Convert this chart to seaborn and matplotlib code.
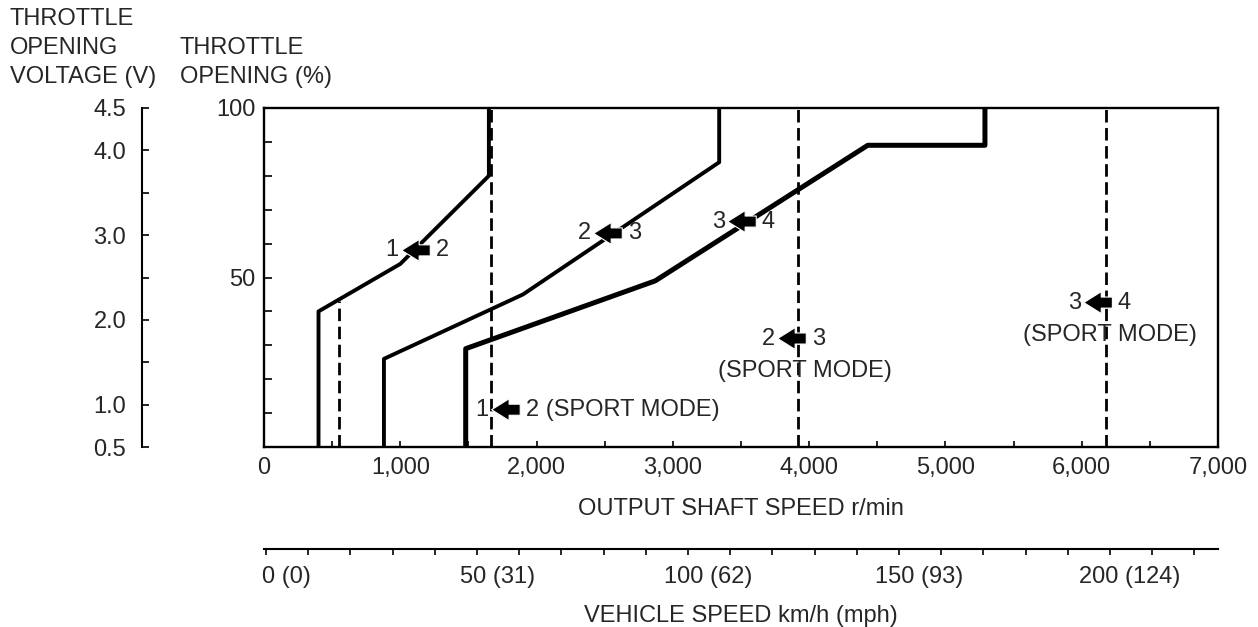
import numpy as np
import pandas as pd
import seaborn as sns
import matplotlib.transforms as mtransforms

from matplotlib import pyplot as plt
from matplotlib.ticker import MultipleLocator, FixedLocator, FuncFormatter

# shift lines: output shaft speed (r/min) vs throttle opening (%)
shift_12_rpm = [400, 400, 1000, 1650, 1650]
shift_12_pct = [0, 40, 54, 80, 100]
shift_23_rpm = [880, 880, 1900, 3340, 3340]
shift_23_pct = [0, 26, 45, 84, 100]
shift_34_rpm = [1480, 1480, 2870, 4430, 5290, 5290]
shift_34_pct = [0, 29, 49, 89, 89, 100]

# dashed shift lines (bottom at 0 %)
dash_rpm = [550, 1665, 3920, 6180]
dash_top = [43, 100, 100, 100]

# axis ticks
volt_major = [0.5, 1.0, 2.0, 3.0, 4.0, 4.5]
volt_minor = [1.5, 2.5, 3.5]
speed_major = [0, 50, 100, 150, 200]
speed_labels = ['0 (0)', '50 (31)', '100 (62)', '150 (93)', '200 (124)']

# shift labels: (from, to, arrow centre r/min, throttle %)
shift_marks = [
    ('1', '2', 1115, 58),
    ('2', '3', 2524, 63),
    ('3', '4', 3507, 66.5),
    ('1', '2 (SPORT MODE)', 1775, 11),
    ('2', '3', 3874, 32),
    ('3', '4', 6120, 42.6),
]
sport_notes = [(3969, 22.4), (6207, 32.9)]

sns.set_theme(style='white')
plt.rcParams['font.family'] = ['Liberation Sans', 'DejaVu Sans']
FS = 17

W, H = 1258, 627
fig = plt.figure(figsize=(W / 100, H / 100), dpi=100)

L, R, T, B = 264, 1218, 108, 447
ax = fig.add_axes([L / W, (H - B) / H, (R - L) / W, (B - T) / H])

df = pd.concat([
    pd.DataFrame({'rpm': shift_12_rpm, 'pct': shift_12_pct, 'shift': '1-2'}),
    pd.DataFrame({'rpm': shift_23_rpm, 'pct': shift_23_pct, 'shift': '2-3'}),
    pd.DataFrame({'rpm': shift_34_rpm, 'pct': shift_34_pct, 'shift': '3-4'}),
])
for name, lw in [('1-2', 2.8), ('2-3', 2.8), ('3-4', 3.6)]:
    sns.lineplot(data=df[df['shift'] == name], x='rpm', y='pct', sort=False,
                 estimator=None, color='black', lw=lw, ax=ax)

ax.vlines(dash_rpm, 0, dash_top, colors='black', linestyles=(0, (4.5, 2)), lw=2.0)

ax.set_xlim(0, 7000)
ax.set_ylim(0, 100)
ax.xaxis.set_major_locator(MultipleLocator(1000))
ax.xaxis.set_minor_locator(MultipleLocator(500))
ax.xaxis.set_major_formatter(FuncFormatter(lambda v, p: f'{int(v):,}'))
ax.yaxis.set_major_locator(FixedLocator([50, 100]))
ax.yaxis.set_minor_locator(MultipleLocator(10))
ax.tick_params(axis='x', which='both', direction='in', length=4.5, width=1.4,
               labelsize=FS, pad=7, bottom=True, top=False)
ax.tick_params(axis='y', which='both', direction='in', length=6, width=1.4,
               labelsize=FS, pad=6, left=True, right=False)
for s in ax.spines.values():
    s.set_linewidth(1.7)
    s.set_color('black')
ax.set_xlabel('OUTPUT SHAFT SPEED r/min', fontsize=FS, labelpad=14)
ax.set_ylabel('')

# shift arrows
half = 105
for a, b, xc, y in shift_marks:
    ax.annotate('', xy=(xc - half, y), xytext=(xc + half, y),
                arrowprops=dict(arrowstyle='simple,head_length=0.6,head_width=0.75,tail_width=0.38',
                                fc='black', ec='white', lw=0.8, shrinkA=0, shrinkB=0,
                                mutation_scale=21))
    ax.annotate(a, xy=(xc - half, y), xytext=(-2, 0), textcoords='offset points',
                ha='right', va='center', fontsize=FS)
    ax.annotate(b, xy=(xc + half, y), xytext=(4, 0), textcoords='offset points',
                ha='left', va='center', fontsize=FS)
for x, y in sport_notes:
    ax.text(x, y, '(SPORT MODE)', ha='center', va='center', fontsize=FS)

# throttle voltage scale
vx = 141.6
vax = fig.add_axes([vx / W, (H - B) / H, 0.0005, (B - T) / H])
vax.set_ylim(0.5, 4.5)
vax.set_xlim(0, 1)
vax.yaxis.set_major_locator(FixedLocator(volt_major))
vax.yaxis.set_minor_locator(FixedLocator(volt_minor))
vax.yaxis.set_major_formatter(FuncFormatter(lambda v, p: f'{v:.1f}'))
vax.set_xticks([])
vax.tick_params(axis='y', which='both', direction='in', length=5, width=1.4,
                labelsize=FS, pad=11, left=True)
for k in ['top', 'right', 'bottom']:
    vax.spines[k].set_visible(False)
vax.spines['left'].set_linewidth(1.5)
vax.spines['left'].set_color('black')
vax.patch.set_alpha(0)

# vehicle speed scale
sy = 549
sax = fig.add_axes([L / W, (H - sy) / H, (R - L) / W, 0.0005])
sax.set_xlim(-0.5, 225.6)
sax.set_yticks([])
sax.xaxis.set_major_locator(FixedLocator(speed_major))
sax.xaxis.set_minor_locator(MultipleLocator(10))
sax.set_xticklabels(speed_labels)
sax.tick_params(axis='x', which='both', direction='out', length=4.5, width=1.4,
                labelsize=FS, pad=8, bottom=True)
for k in ['top', 'right', 'left']:
    sax.spines[k].set_visible(False)
sax.spines['bottom'].set_linewidth(1.5)
sax.spines['bottom'].set_color('black')
sax.patch.set_alpha(0)
shift = mtransforms.ScaledTranslation(0.2, 0, fig.dpi_scale_trans)
for lab in sax.get_xticklabels():
    lab.set_transform(lab.get_transform() + shift)
sax.set_xlabel('VEHICLE SPEED km/h (mph)', fontsize=FS, labelpad=12)

fig.text(10 / W, 1 - 8 / H, 'THROTTLE\nOPENING\nVOLTAGE (V)', ha='left', va='top',
         fontsize=FS, linespacing=1.4)
fig.text(180 / W, 1 - 37 / H, 'THROTTLE\nOPENING (%)', ha='left', va='top',
         fontsize=FS, linespacing=1.4)

fig.savefig('out.png', dpi=100, facecolor='white')
